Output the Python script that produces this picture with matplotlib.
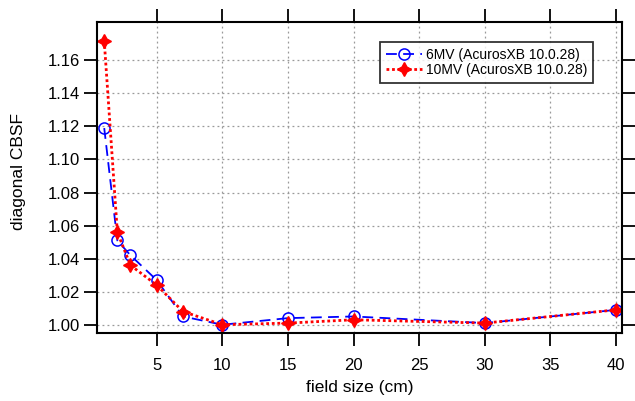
import numpy as np
import matplotlib.pyplot as plt

plt.rcParams['font.family'] = ['Liberation Sans', 'DejaVu Sans']

# field size (cm)
field_size = [1, 2, 3, 5, 7, 10, 15, 20, 30, 40]
# diagonal CBSF
cbsf_6mv = [1.119, 1.051, 1.042, 1.027, 1.005, 1.000, 1.004, 1.005, 1.001, 1.009]
cbsf_10mv = [1.172, 1.056, 1.036, 1.024, 1.008, 1.000, 1.001, 1.003, 1.001, 1.009]

x_ticks = [5, 10, 15, 20, 25, 30, 35, 40]
y_ticks = [1.00, 1.02, 1.04, 1.06, 1.08, 1.10, 1.12, 1.14, 1.16]

fig = plt.figure(figsize=(6.35, 4.01), dpi=100)
ax = fig.add_axes([97 / 635, 1 - 332.5 / 401, 525 / 635, 310.5 / 401])

ax.plot(field_size, cbsf_6mv, color='blue', linestyle=(0, (6, 3.5)), linewidth=1.3,
        marker='o', markersize=8, markerfacecolor='none', markeredgecolor='blue',
        markeredgewidth=1.1, label='6MV (AcurosXB 10.0.28)')
ax.plot(field_size, cbsf_10mv, color='red', linestyle=(0, (1, 1)), linewidth=2,
        marker=(4, 1, 0), markersize=10, markerfacecolor='red', markeredgecolor='red',
        label='10MV (AcurosXB 10.0.28)')

ax.set_xlim(0.45, 40.45)
ax.set_ylim(0.9953, 1.1832)
ax.set_xticks(x_ticks)
ax.set_yticks(y_ticks)
ax.set_yticklabels(['%.2f' % v for v in y_ticks])

ax.grid(True, color='#999999', linestyle=(0, (1.5, 2.5)), linewidth=0.9)
ax.tick_params(direction='out', length=9.5, width=1.3, labelsize=12,
               top=True, right=True, labeltop=False, labelright=False)
ax.tick_params(axis='x', pad=9)
ax.tick_params(axis='y', pad=3)
for s in ax.spines.values():
    s.set_linewidth(1.5)

ax.set_xlabel('field size (cm)', fontsize=12.5, labelpad=5)
ax.set_ylabel('diagonal CBSF', fontsize=12.5)
ax.yaxis.set_label_coords(-0.135, 0.52)

leg = ax.legend(loc='upper right', bbox_to_anchor=(0.945, 0.935), fontsize=10,
                frameon=True, fancybox=False, edgecolor='black', handlelength=2.6,
                handletextpad=0.3, borderpad=0.4, labelspacing=0.1, borderaxespad=0)
leg.get_frame().set_linewidth(1.3)

fig.savefig('out.png', dpi=100)
